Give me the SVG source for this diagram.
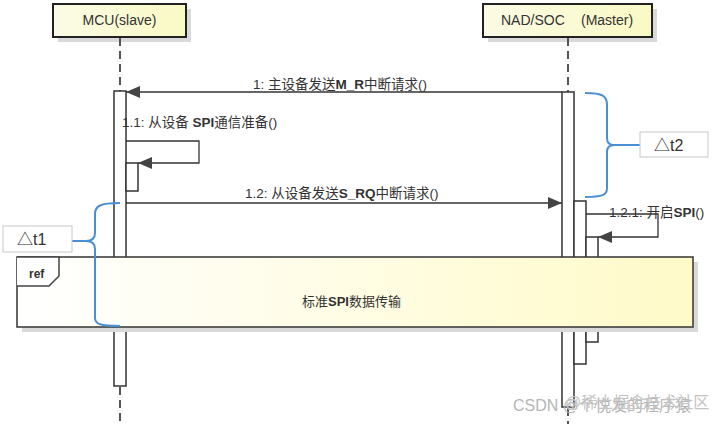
<svg xmlns="http://www.w3.org/2000/svg" width="720" height="424" viewBox="0 0 720 424">
<defs>
<linearGradient id="hdr" x1="0" y1="0" x2="1" y2="0">
<stop offset="0" stop-color="#fbfbe6"/>
<stop offset="1" stop-color="#f9f9c4"/>
</linearGradient>
<linearGradient id="refg" x1="0" y1="0" x2="1" y2="0">
<stop offset="0" stop-color="#ffffff"/>
<stop offset="1" stop-color="#fffac8"/>
</linearGradient>
<marker id="ah" viewBox="0 0 14 12" refX="14" refY="6" markerWidth="14" markerHeight="12" markerUnits="userSpaceOnUse" orient="auto">
<path d="M0,0 L14,6 L0,12 Z" fill="#444"/>
</marker>
</defs>
<style>
text{font-family:"Liberation Sans","Noto Sans CJK SC",sans-serif;fill:#333}
.hdr{fill:url(#hdr);stroke:#222;stroke-width:2}
.sh{fill:#d9d9d9}
.ll{stroke:#555;stroke-width:2;stroke-dasharray:8 5;fill:none}
.bar{fill:#fff;stroke:#333;stroke-width:1.5}
.msg{stroke:#333;stroke-width:1.3;fill:none;marker-end:url(#ah)}
.lbl{font-size:13.5px}
.b{font-weight:bold}
.br{stroke:#4a8fd6;stroke-width:2;fill:none}
.tb{fill:#fff;stroke:#c8c8c8;stroke-width:1}
</style>
<g id="mcu">
<rect class="sh" x="58" y="9" width="133" height="33"/>
<rect class="hdr" x="53" y="4" width="133" height="33"/>
<text x="119.5" y="25" font-size="14" text-anchor="middle">MCU(slave)</text>
<line class="ll" x1="120" y1="38" x2="120" y2="91"/>
<line class="ll" x1="120" y1="387" x2="120" y2="422"/>
<rect class="bar" x="114" y="91" width="12" height="295"/>
<rect class="bar" x="126" y="163" width="12" height="28"/>
</g>
<g id="nad">
<rect class="sh" x="488" y="9" width="169" height="33"/>
<rect class="hdr" x="483" y="4" width="169" height="33"/>
<text x="501" y="25" font-size="14">NAD/SOC</text>
<text x="581" y="25" font-size="14">(Master)</text>
<line class="ll" x1="568" y1="38" x2="568" y2="92"/>
<line class="ll" x1="568" y1="408" x2="568" y2="424"/>
<rect class="bar" x="562" y="92" width="12" height="315"/>
<rect class="bar" x="574" y="201" width="12" height="163"/>
<rect class="bar" x="586" y="237" width="12" height="105"/>
</g>
<g id="connectors">
<line class="msg" x1="562" y1="92" x2="126" y2="92"/>
<text class="lbl" x="253" y="89">1: 主设备发送<tspan class="b">M_R</tspan>中断请求()</text>
<polyline class="msg" points="126,141 199,141 199,163 138,163"/>
<text class="lbl" x="122" y="127">1.1: 从设备 <tspan class="b">SPI</tspan>通信准备()</text>
<line class="msg" x1="126" y1="203" x2="562" y2="203"/>
<text class="lbl" x="245" y="198">1.2: 从设备发送<tspan class="b">S_RQ</tspan>中断请求()</text>
<polyline class="msg" points="586,214 658,214 658,237 598,237"/>
<text class="lbl" x="609" y="217">1.2.1: 开启<tspan class="b">SPI</tspan>()</text>
</g>
<g id="ref">
<rect class="sh" x="22" y="262" width="676" height="70"/>
<rect x="17" y="257" width="676" height="70" fill="url(#refg)" stroke="#333" stroke-width="1.5"/>
<path d="M17,257 L59,257 L59,276 L49,286 L17,286" fill="#fff" stroke="#444" stroke-width="1.5"/>
<text x="29" y="278" font-size="12" font-weight="bold">ref</text>
<text x="302" y="306" font-size="13">标准<tspan class="b">SPI</tspan>数据传输</text>
</g>
<g id="dt2">
<path class="br" d="M585,93 C603,93 607,96 607,105 L607,138 C607,143 609,145 614,145 L640,145 M614,145 C609,145 607,147 607,152 L607,188 C607,195 603,197 585,197"/>
<rect class="tb" x="640" y="132" width="68" height="25"/>
<text x="654" y="151" font-size="16">△t2</text>
</g>
<g id="dt1">
<path class="br" d="M120,203 C100,203 95,206 95,214 L95,233 C95,238 92,241 86,241 L72,241 M86,241 C92,241 95,244 95,249 L95,318 C95,324 100,326 120,326"/>
<rect class="tb" x="3" y="226" width="69" height="26"/>
<text x="17" y="245" font-size="16">△t1</text>
</g>
<g id="watermark">
<text x="513" y="411" font-size="16" style="fill:#b5b5b5">CSDN @个悦发的程序猿</text>
<text x="565" y="408" font-size="16" style="fill:#c4c4c4">@稀土掘金技术社区</text>
</g>
</svg>
